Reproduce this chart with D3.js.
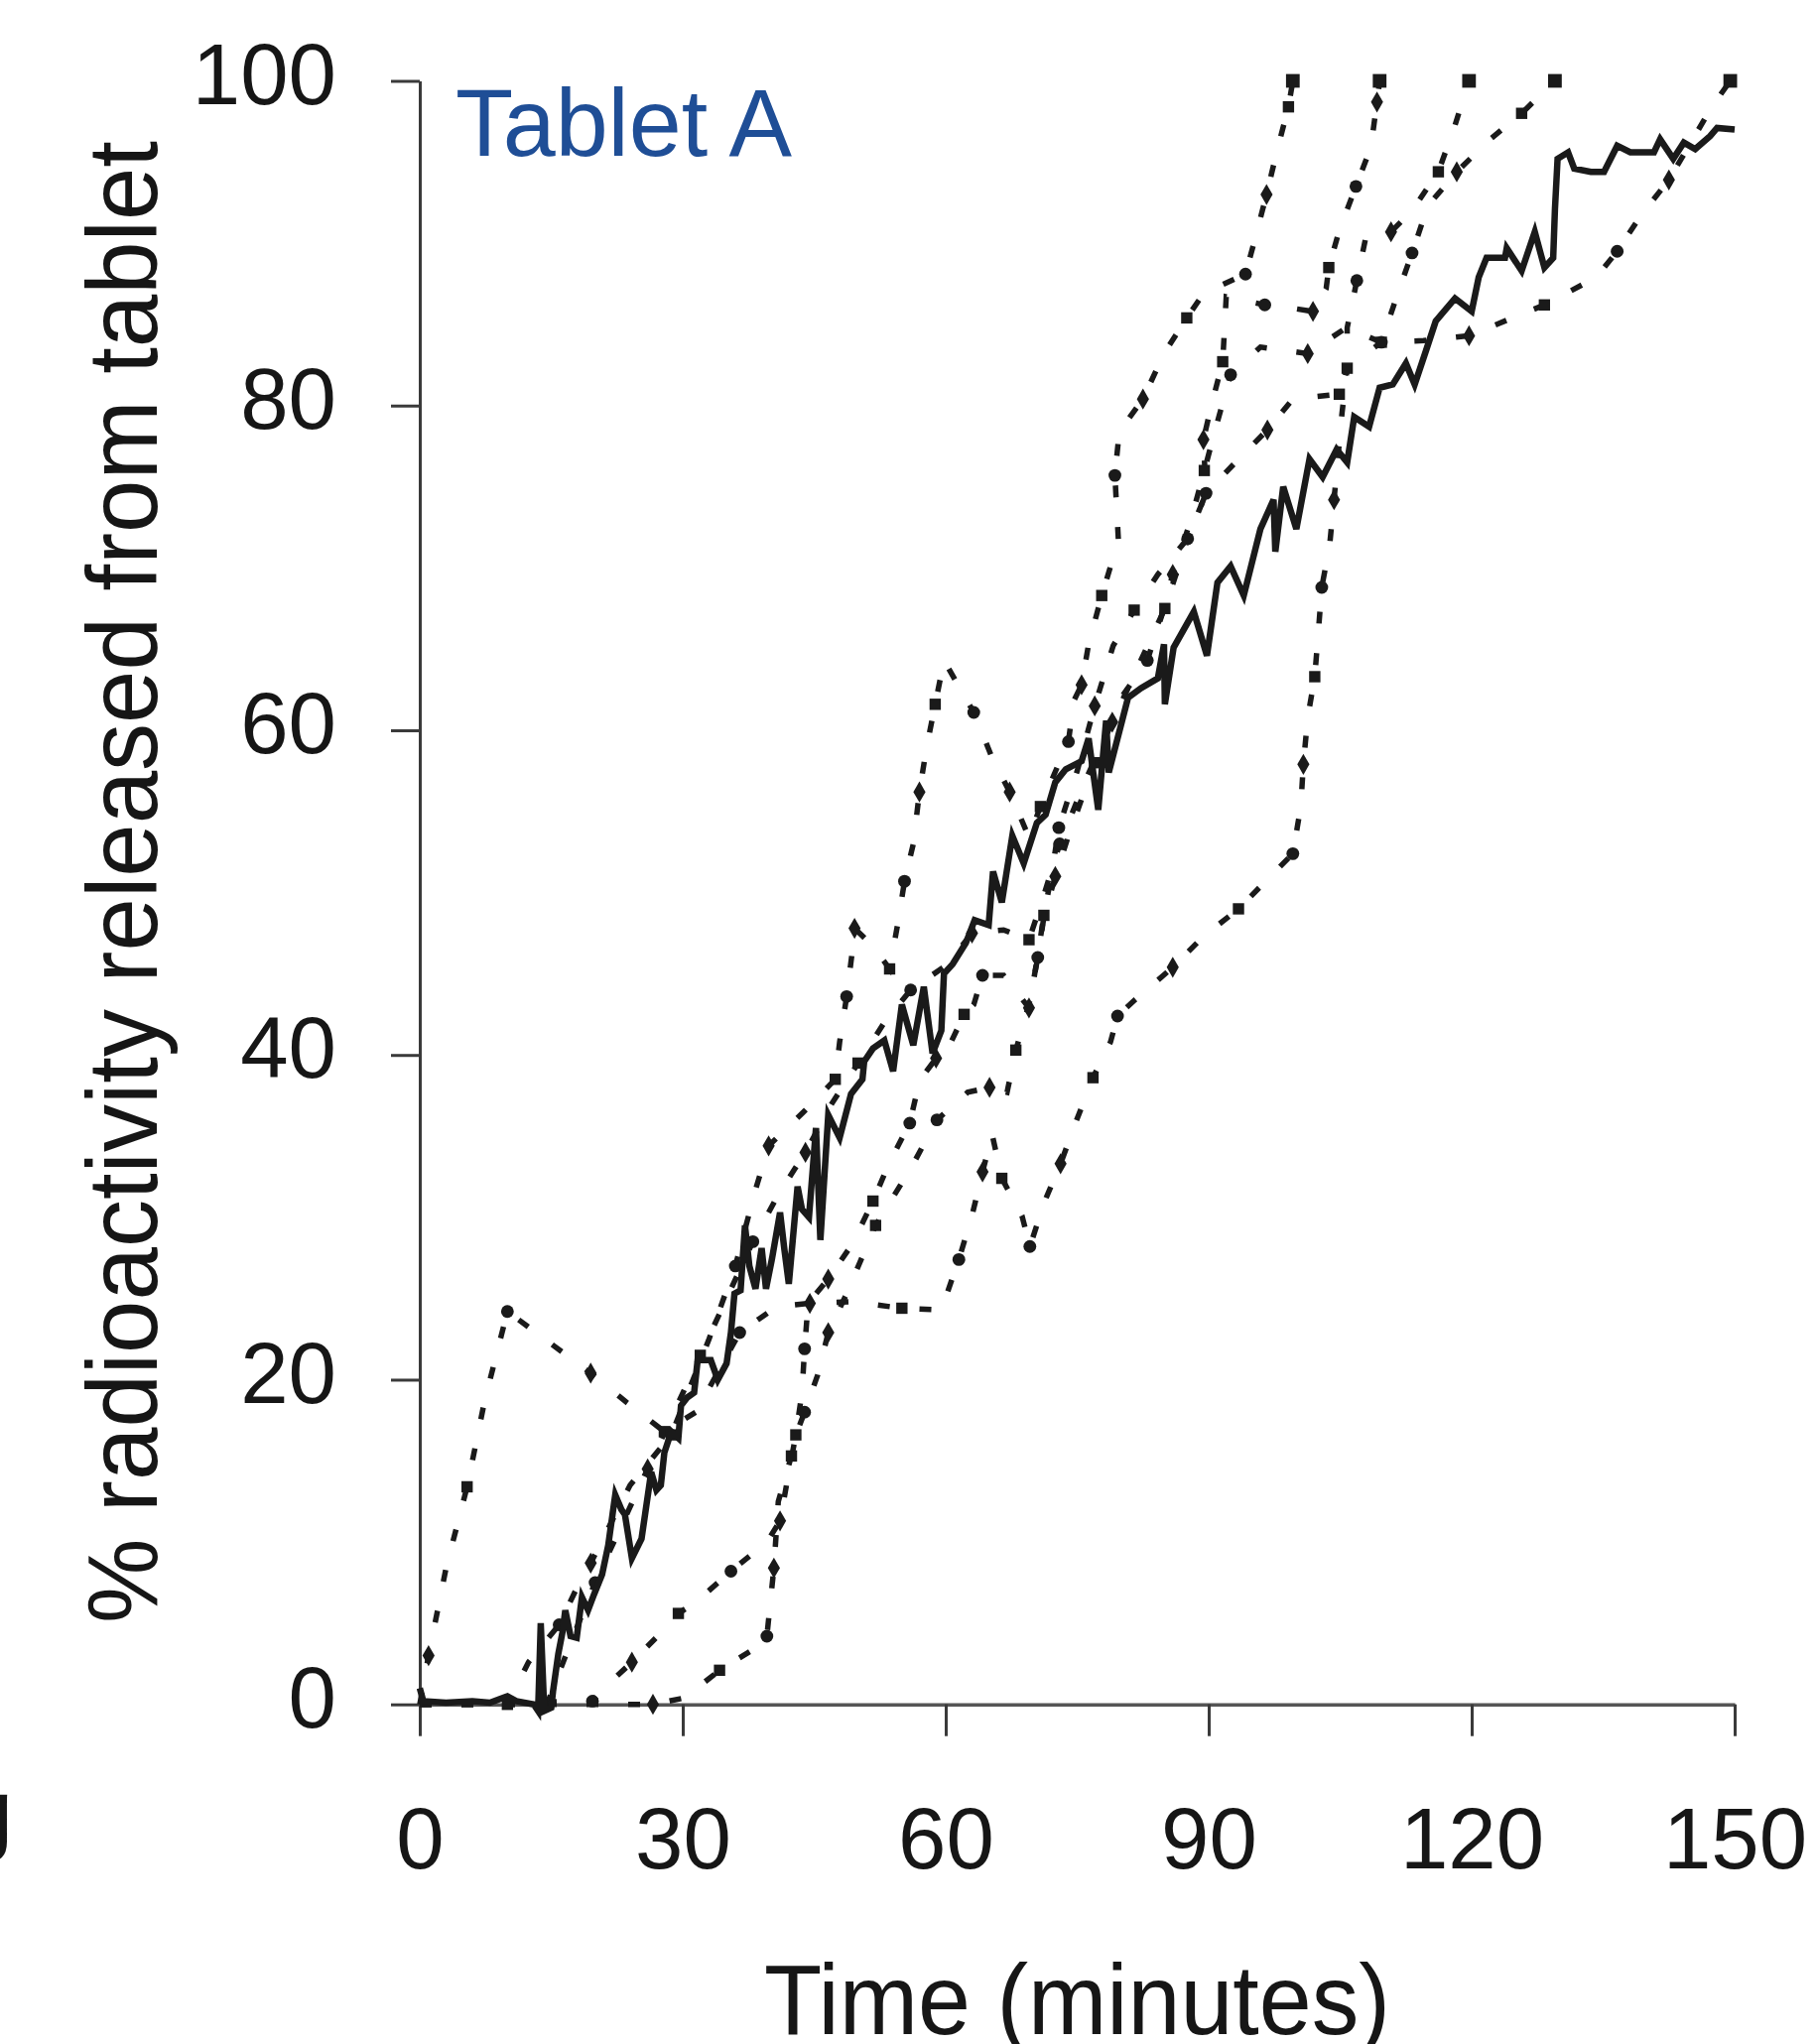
<!DOCTYPE html>
<html>
<head>
<meta charset="utf-8">
<script src="https://cdnjs.cloudflare.com/ajax/libs/d3/7.8.5/d3.min.js"></script>
<style>
  body { margin: 0; background: #fff; }
  svg text { font-family: "Liberation Sans", Arial, sans-serif; }
</style>
</head>
<body>
<div id="chart"></div>
<script>
// tick values
var xTicks = [0, 30, 60, 90, 120, 150];
var yTicks = [0, 20, 40, 60, 80, 100];

// continuous recording (solid line), [minutes, %]
var solidTrace = [[0,1.0],[0.4,0.2],[3,0.1],[6,0.2],[8,0.1],[10,0.5],[11,0.2],[13,0],[13.5,-0.4],[13.8,5.0],[14.2,-0.4],[15,-0.2],[15.2,0.8],[15.8,3.1],[16.3,4.5],[16.6,5.8],[17.2,4.2],[17.9,4.1],[18.5,6.6],[19.2,5.8],[19.9,6.8],[20.8,8],[21.5,9.8],[22.3,12.9],[23,12],[23.4,11.7],[24.2,9],[25.3,10.2],[26.4,14.3],[27,13.2],[27.5,13.5],[27.9,15.5],[28.7,16.8],[29.5,16.4],[29.8,18.4],[30.5,18.9],[31.3,19.2],[31.7,21.2],[33.2,21.2],[34,20],[35,21],[35.5,22.9],[35.9,25.3],[36.6,25.5],[37.1,29.5],[37.6,27],[38.3,25.6],[39,28.1],[39.5,25.6],[40.2,27.5],[41.1,30.3],[41.6,28],[42.1,25.9],[43.1,31.9],[43.6,30.5],[44.4,30],[45.2,35.5],[45.7,28.6],[46.6,36.3],[47.9,34.9],[49.2,37.6],[50.5,38.5],[50.7,39.6],[51.7,40.4],[53,40.9],[54,39],[55,43.1],[56.3,40.6],[57.5,44.2],[58.5,40.1],[59.5,41.5],[59.8,45],[60.8,45.6],[62.3,46.9],[63.3,48.3],[64.9,48],[65.4,51.3],[66.4,49.4],[67.6,53.5],[68.9,51.8],[70.4,54.3],[71.4,54.8],[72.5,56.8],[73.7,57.6],[75.5,58.1],[76.3,59.5],[77.4,55.1],[78.3,60.6],[78.6,57.4],[80.8,62],[82.3,62.6],[84.2,63.2],[84.9,65.3],[85,61.6],[86,65.1],[88.3,67.3],[89.8,64.6],[91,69.1],[92.5,70.1],[94,68.3],[95.9,72.4],[97.4,74.2],[97.6,71],[98.5,75],[100,72.4],[101.5,76.7],[103,75.6],[104.6,77.3],[105.8,76.5],[106.6,79.3],[108.3,78.7],[109.5,81.1],[111,81.3],[112.5,82.6],[113.5,81.3],[114.8,83.4],[115.9,85.2],[118.1,86.6],[120,85.8],[120.8,87.9],[121.7,89.1],[123.8,89.1],[124,89.7],[125.7,88.3],[127.2,90.7],[128.3,88.5],[129.3,89.1],[129.5,92.1],[129.8,95.2],[131,95.6],[131.7,94.6],[133.6,94.4],[135.1,94.4],[136.6,96],[138.1,95.6],[140.8,95.6],[141.5,96.4],[143,95.2],[144.2,96.2],[145.5,95.8],[147.2,96.6],[148,97.1],[150,97]];

// individual subjects (dotted lines), [minutes, %]
var subject1 = [[0,0],[1,3],[3,8.4],[5.4,13.4],[7.4,18.7],[10,24.2],[15,22.2],[19.5,20.4],[23.6,18.6],[27.9,16.8],[31.5,18],[36.5,22.9],[40.7,24.5],[44.5,24.7],[49.4,24.8],[55,24.4],[59.5,24.3],[61.5,27.4],[63,30.1],[64.2,32.8],[65.3,35.1],[66.4,32.4],[68.7,30.1],[69.6,28.2],[71.3,31],[73.1,33.3],[74.8,35.8],[76.8,38.6],[78.8,40.8],[79.6,42.4],[81.6,43.4],[85.9,45.4],[89.4,47.3],[93.4,49],[96.5,50.7],[99.6,52.4],[100.5,55.3],[100.8,57.9],[101.3,60.8],[102.1,63.3],[102.5,66],[102.9,68.8],[103.8,71.4],[104.3,74.2],[105.2,79.5],[105.8,82.3],[105.8,84.8],[106.9,87.7],[107.9,90.3],[110.8,90.7],[113.2,92],[116.2,94.4],[118,97.1],[119.7,100]];
var subject2 = [[0,0],[10,0],[12.4,2.6],[15.9,4.9],[18.3,7.6],[19.5,8.7],[24,13.5],[28.7,16.6],[33,22.5],[36,27],[38.3,31.7],[39.8,34.4],[43.8,36.5],[47.4,38.5],[47.9,40.8],[48.7,43.6],[49.3,46.2],[49.6,47.8],[51.7,46.7],[53.6,45.3],[54.5,48],[55.3,50.7],[56.3,53],[57,56.2],[57.8,58.9],[58.8,61.6],[59.8,64.3],[63.2,61.1],[65.3,58.3],[67.3,56.2],[69.5,53.4],[70.8,55.3],[72.7,57.7],[74,59.3],[74.6,61.8],[75.5,62.8],[76.3,65.3],[77.8,68.3],[79.7,71.7],[79.3,75.7],[79.8,78.4],[82.5,80.4],[84.9,83.2],[87.5,85.4],[89.4,86.9],[94.2,88.1],[95.3,90.3],[96.6,93],[97.8,95.7],[99.1,98.4],[99.6,100]];
var subject3 = [[0,0],[19.7,0.2],[20.6,0.8],[24.2,2.6],[27.5,4.4],[29.5,5.6],[31.5,6.3],[35.5,8.2],[39.6,10],[41.1,11.3],[41.9,13.7],[42.9,16.6],[43.6,19.2],[43.9,21.9],[44.3,24.7],[46.6,26.2],[49.4,28.4],[51.7,31],[53.6,33.4],[55.9,35.8],[57,38.4],[58.9,39.8],[60,40.1],[62.1,42.5],[63.2,43.1],[64.2,44.9],[66.6,44.9],[69.5,42.9],[70.4,45.8],[71.2,48.6],[72.1,51.2],[72.9,54],[75,57.5],[77,61.5],[79.1,65.2],[81.5,67.4],[84.2,69.6],[87.6,71.8],[89.7,74.6],[89.4,77.9],[90.3,80],[91.6,82.7],[92,86.7],[96.4,86.2],[99.5,86],[101.9,85.8],[103.4,87.2],[103.7,88.5],[104.9,90.8],[106.8,93.5],[108.5,95.9],[109.2,98.7],[109.5,100]];
var subject4 = [[0,0],[26.6,0],[30.2,0.4],[34.2,2.1],[38.4,3.5],[39.6,4.2],[39.9,5.8],[40.4,8.4],[40.9,12.5],[42.4,15.3],[42.9,16.6],[43.9,18],[45.4,20.3],[46.6,22.9],[48.7,25.3],[52,29.5],[56,33],[59,36],[62.5,37.7],[65,38],[67,37.7],[68,40.3],[69.5,43.1],[70.5,46],[71.2,48.5],[72.5,51],[74,53.5],[77,58],[80,62],[83,64.3],[84.6,67],[85.9,69.6],[88,73],[89.5,76],[91,79],[92.5,81.9],[95.9,83.6],[101.3,83.2],[105.7,84.8],[109.7,83.9],[111.5,86.8],[113.2,89.4],[115,92.3],[118.3,94.4],[122.1,96.4],[125.7,98],[129.5,100]];
var subject5 = [[0,0],[14.5,0],[17,3.5],[20,7.5],[23,11],[26,14.5],[29,18],[32,21.5],[35,25],[38,28.5],[41,31.5],[44,34],[47,37],[50,39.5],[53,42],[56,44],[60,45.5],[63,47.5],[66.6,47.7],[69.5,47.1],[71,49.5],[73,53],[76,57],[79,60.5],[82,64],[85,67.5],[87.6,71.8],[89.7,74.6],[93.4,76.7],[96.7,78.5],[99.6,80.4],[104.9,80.7],[105.8,82.3],[109.7,83.9],[114.5,84],[119.7,84.3],[124.2,85.3],[128.3,86.2],[134.2,87.9],[136.6,89.5],[139.3,91.7],[142.5,93.9],[147.4,98.4],[149.5,100]];

var subjects = [subject1, subject2, subject3, subject4, subject5];

var width = 1832, height = 2060;

var x = d3.scaleLinear().domain([0, 150]).range([423, 1748]);
var y = d3.scaleLinear().domain([0, 100]).range([1717.7, 81.5]);

var svg = d3.select('#chart').append('svg')
    .attr('width', width)
    .attr('height', height);

svg.append('rect')
    .attr('width', width)
    .attr('height', height)
    .attr('fill', '#fff');

// axes
var yAxis = d3.axisLeft(y).tickValues(yTicks).tickSize(29).tickSizeOuter(0).tickPadding(55);
var gy = svg.append('g')
    .attr('transform', 'translate(' + x(0) + ',0)')
    .call(yAxis);

var xAxis = d3.axisBottom(x).tickValues(xTicks).tickSize(32).tickSizeOuter(0).tickPadding(72);
var gx = svg.append('g')
    .attr('transform', 'translate(0,' + y(0) + ')')
    .call(xAxis);

[gx, gy].forEach(function(g) {
    g.attr('font-size', null).attr('font-family', null);
    g.selectAll('path, line').attr('stroke', '#3a3a3a').attr('stroke-width', 3);
    g.selectAll('text').attr('font-size', 87).attr('fill', '#161616');
});
gx.select('.domain').attr('stroke', '#555').attr('stroke-width', 3.5);
gy.selectAll('text').attr('dy', '0.26em');

// dotted subject curves
var line = d3.line()
    .x(function(d) { return x(d[0]); })
    .y(function(d) { return y(d[1]); });

var shapes = [d3.symbolDiamond, d3.symbolSquare, d3.symbolCircle];

var subj = svg.append('g').attr('class', 'subjects');

subj.selectAll('path.subject')
    .data(subjects)
    .enter().append('path')
    .attr('class', 'subject')
    .attr('d', line)
    .attr('fill', 'none')
    .attr('stroke', '#1a1a1a')
    .attr('stroke-width', 5.5)
    .attr('stroke-dasharray', '12,30');

// markers on every other reading, plus the final one
subjects.forEach(function(s, i) {
    subj.selectAll('path.mk' + i)
        .data(s.filter(function(d, j) { return j > 0 && (j % 2 === 1 || j === s.length - 1); }))
        .enter().append('path')
        .attr('class', 'mk' + i)
        .attr('d', function(d, j) {
            var last = d === s[s.length - 1];
            return d3.symbol().type(last ? d3.symbolSquare : shapes[(i + j) % 3]).size(last ? 190 : 130)();
        })
        .attr('transform', function(d) {
            return 'translate(' + x(d[0]) + ',' + y(d[1]) + ')';
        })
        .attr('fill', '#1a1a1a');
});

// continuous trace
svg.append('path')
    .datum(solidTrace)
    .attr('d', line)
    .attr('fill', 'none')
    .attr('stroke', '#1a1a1a')
    .attr('stroke-width', 6.5)
    .attr('stroke-linejoin', 'miter');

// titles
svg.append('text')
    .attr('x', (x(0) + x(150)) / 2)
    .attr('y', 2050)
    .attr('text-anchor', 'middle')
    .attr('font-size', 100)
    .attr('textLength', 631)
    .attr('lengthAdjust', 'spacingAndGlyphs')
    .attr('fill', '#161616')
    .text('Time (minutes)');

svg.append('text')
    .attr('transform', 'translate(158,889) rotate(-90)')
    .attr('text-anchor', 'middle')
    .attr('font-size', 100)
    .attr('textLength', 1494)
    .attr('lengthAdjust', 'spacingAndGlyphs')
    .attr('fill', '#161616')
    .text('% radioactivity released from tablet');

svg.append('text')
    .attr('x', 459)
    .attr('y', 157)
    .attr('font-size', 96)
    .attr('textLength', 339)
    .attr('lengthAdjust', 'spacingAndGlyphs')
    .attr('fill', '#1f4e96')
    .text('Tablet A');

// cut-off letter from the neighbouring panel
svg.append('text')
    .attr('x', -38)
    .attr('y', 1858)
    .attr('font-size', 92)
    .attr('fill', '#161616')
    .text('g');
</script>
</body>
</html>
